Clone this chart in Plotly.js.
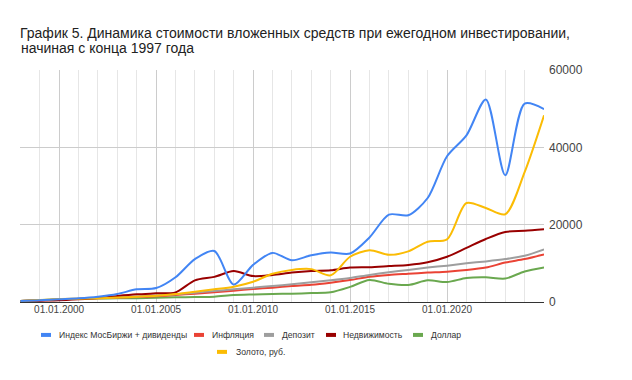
<!DOCTYPE html>
<html><head><meta charset="utf-8">
<script src="https://cdn.plot.ly/plotly-3.0.1.min.js"></script>
<style>html,body{margin:0;padding:0;background:#fff}</style>
</head><body><div id="chart" style="width:632px;height:380px"></div>
<script>
const years = [1998,1999,2000,2001,2002,2003,2004,2005,2006,2007,2008,2009,2010,2011,2012,2013,2014,2015,2016,2017,2018,2019,2020,2021,2022,2023,2024,2025];
const dates = years.map(y => y + '-01-01');
const seriesNames = ['Индекс МосБиржи + дивиденды','Инфляция','Депозит','Недвижимость','Доллар','Золото, руб.'];
const seriesColors = ['#4285F4','#EA4335','#9E9E9E','#990000','#6AA84F','#FBBC04'];
const moexIndex = [260,440,700,950,1370,2060,3270,3600,6400,11100,13200,4500,9600,12700,10800,12100,12800,12550,16700,22600,22450,26900,37700,43100,52400,32800,51300,49900];
const inflation = [260,440,620,800,980,1150,1320,1500,1800,2150,2500,2920,3350,3700,4130,4450,5000,5680,6530,7000,7300,7600,7850,8260,8900,10200,11100,12300];
const deposit = [260,440,650,850,1050,1250,1450,1650,1980,2400,2840,3270,3700,4130,4560,5100,5600,6200,7000,7700,8300,8900,9400,10000,10500,11100,11950,13600];
const realEstate = [260,350,440,700,1030,1550,1980,2240,2500,5600,6500,8000,6700,7000,7600,8000,8200,8900,9000,9300,9600,10300,11700,14000,16300,18100,18400,18800];
const dollar = [260,500,700,800,900,950,1000,1100,1200,1290,1370,1800,1950,2060,2150,2300,2500,3900,5680,4700,4400,5600,5160,6200,6370,6050,7900,8950];
const gold = [260,500,770,850,950,1150,1370,1630,2060,2660,3270,3950,5240,7300,8300,8500,6900,11700,13400,12200,13100,15600,16200,25600,24300,22700,33600,48300];
const yTicks = [0,20000,40000,60000];
const titleLines = ['График 5. Динамика стоимости вложенных средств при ежегодном инвестировании,', 'начиная с конца 1997 года'];

const FONT = 'Arial, "Liberation Sans", sans-serif';
const allSeries = [moexIndex, inflation, deposit, realEstate, dollar, gold];
const order = [4,1,2,3,5,0];
const traces = order.map(i => ({
  type:'scatter', mode:'lines', x: dates, y: allSeries[i], name: seriesNames[i],
  line:{color: seriesColors[i], width:2, shape:'spline', smoothing:0.8},
  hoverinfo:'x+y+name'
}));

// plot-area pixel geometry
const L = 20, R = 544, T = 69.5, B = 302;
const px = v => (v - L) / (R - L);
const py = v => (B - v) / (B - T);

const legendRows = [
  [{i:0, sx:41, tx:58},{i:1, sx:194, tx:211},{i:2, sx:264, tx:281},{i:3, sx:326, tx:342},{i:4, sx:413, tx:430}],
  [{i:5, sx:217, tx:235}]
];
const legendY = [335, 352];
const shapes = [], annotations = [];
legendRows.forEach((row, r) => row.forEach(e => {
  shapes.push({type:'rect', xref:'paper', yref:'paper', x0:px(e.sx), x1:px(e.sx+10), y0:py(legendY[r]+2), y1:py(legendY[r]-2),
    fillcolor: seriesColors[e.i], line:{width:0}});
  annotations.push({xref:'paper', yref:'paper', x:px(e.tx), y:py(legendY[r]), xanchor:'left', yanchor:'middle',
    text: seriesNames[e.i], showarrow:false, borderpad:0, font:{family:FONT, size:8.6, color:'#333'}});
}));
// second title line (reference uses a tight line spacing)
annotations.push({xref:'paper', yref:'paper', x:px(20), y:py(47.5), xanchor:'left', yanchor:'middle',
  text:titleLines[1], showarrow:false, borderpad:0, font:{family:FONT, size:14, color:'#222'}});

const layout = {
  width:632, height:380,
  margin:{l:L, r:632-R, t:T, b:380-B, pad:0},
  paper_bgcolor:'#fff', plot_bgcolor:'#fff',
  showlegend:false,
  title:{text:titleLines[0], x:20/632, xanchor:'left', xref:'container', y:1-33/380, yref:'container', yanchor:'middle',
    font:{family:FONT, size:14, color:'#222'}},
  xaxis:{type:'date', range:['1997-12-25','2024-12-31'], tick0:'2000-01-01', dtick:'M60', tickformat:'%d.%m.%Y',
    showgrid:true, gridcolor:'#cccccc', gridwidth:1, zeroline:false, showline:false, ticks:'',
    tickfont:{family:FONT, size:10, color:'#444'},
    minor:{tick0:'2000-01-01', dtick:'M12', showgrid:true, gridcolor:'#e6e6e6', gridwidth:1, ticks:''}},
  yaxis:{side:'right', range:[0,60000], tickvals:yTicks, ticktext:yTicks.map(String), showgrid:true, gridcolor:'#cccccc',
    zeroline:true, zerolinecolor:'#333', zerolinewidth:1, showline:false, ticks:'', ticklabelstandoff:4,
    tickfont:{family:FONT, size:12, color:'#444'}},
  shapes, annotations
};
Plotly.newPlot('chart', traces, layout, {displayModeBar:false, staticPlot:true});
</script></body></html>
